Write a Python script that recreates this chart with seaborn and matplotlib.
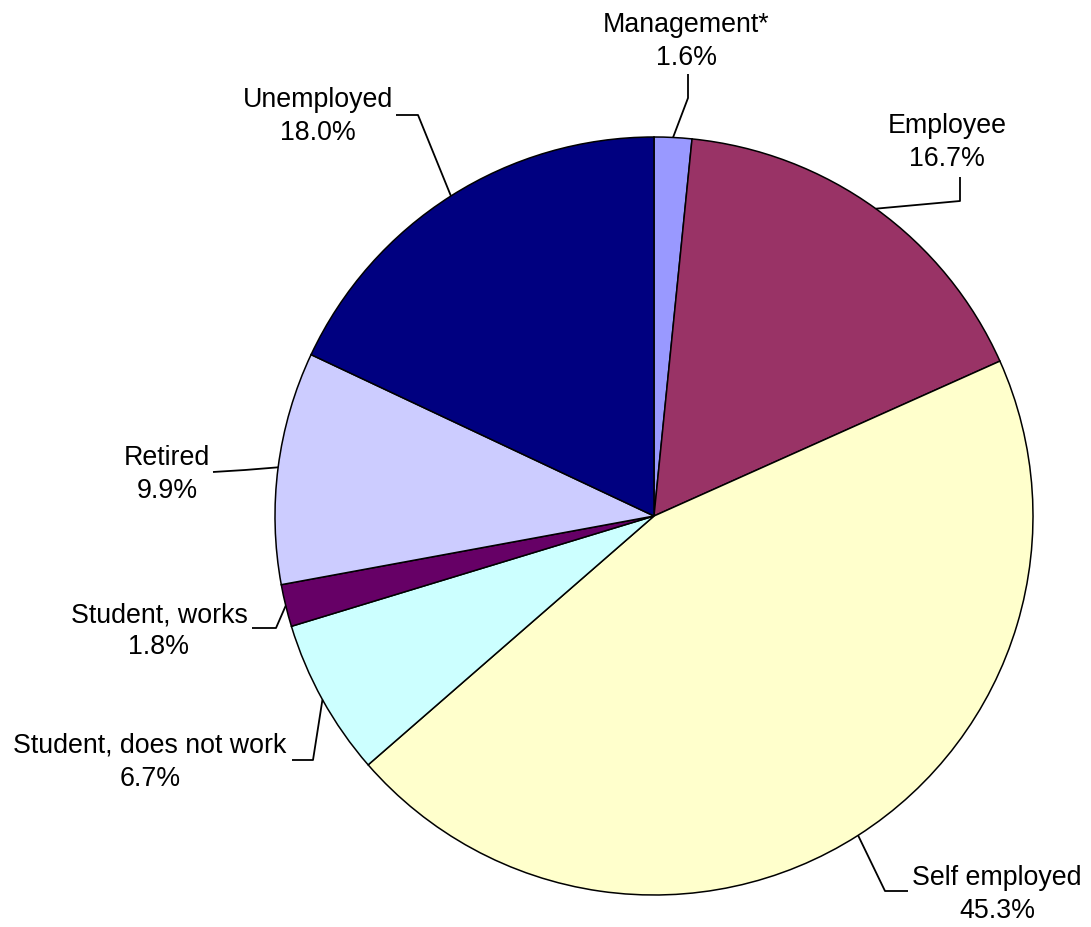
import numpy as np
import matplotlib
matplotlib.use("Agg")
import matplotlib.pyplot as plt
import seaborn as sns

# Occupation shares (%), clockwise from 12 o'clock
categories = ["Management*", "Employee", "Self employed", "Student, does not work",
              "Student, works", "Retired", "Unemployed"]
shares = [1.6, 16.7, 45.3, 6.7, 1.8, 9.9, 18.0]
colors = ["#9999FF", "#993366", "#FFFFCC", "#CCFFFF", "#660066", "#CCCCFF", "#000080"]

sns.set_theme(style="white")
plt.rcParams["font.family"] = ["Liberation Sans", "DejaVu Sans"]

W, H = 1091, 927
fig = plt.figure(figsize=(W / 100, H / 100), dpi=100)
ax = fig.add_axes([0, 0, 1, 1])
ax.set_xlim(0, W)
ax.set_ylim(0, H)
ax.axis("off")

cx, cy, R = 654, 516, 379  # pie centre / radius in pixels from top-left


def Y(y):
    return H - y


ax.pie(shares, colors=colors, startangle=90, counterclock=False,
       center=(cx, Y(cy)), radius=R, frame=True,
       wedgeprops=dict(edgecolor="black", linewidth=1.1))
ax.set_xlim(0, W)
ax.set_ylim(0, H)
ax.set_aspect("equal")
ax.axis("off")

# label layout: (centre x, baseline of first line) and leader elbow points
label_pos = [(686, 32), (947, 133), (997, 885), (150, 753), (159, 622), (167, 465), (318, 107)]
leader_pts = [
    [(688, 98), (688, 74)],
    [(960, 201), (960, 177)],
    [(885, 891), (908, 891)],
    [(313, 760), (292, 760)],
    [(276, 628), (252, 628)],
    [(245, 470), (213, 472)],
    [(418, 115), (396, 115)],
]

cum = np.cumsum([0] + shares[:-1])
fs = 19.3
for name, val, c0, (tx, ty), pts in zip(categories, shares, cum, label_pos, leader_pts):
    ang = np.deg2rad(90 - (c0 + val / 2) * 3.6)
    ex, ey = cx + R * np.cos(ang), cy - R * np.sin(ang)
    xs = [ex] + [p[0] for p in pts]
    ys = [Y(ey)] + [Y(p[1]) for p in pts]
    ax.plot(xs, ys, color="black", lw=1.3, solid_capstyle="butt")
    ax.text(tx, Y(ty), name, ha="center", va="baseline", fontsize=fs, color="black")
    ax.text(tx, Y(ty + 32.5), f"{val:.1f}%", ha="center", va="baseline",
            fontsize=fs, color="black")

fig.savefig("out.png", dpi=100, facecolor="white")
